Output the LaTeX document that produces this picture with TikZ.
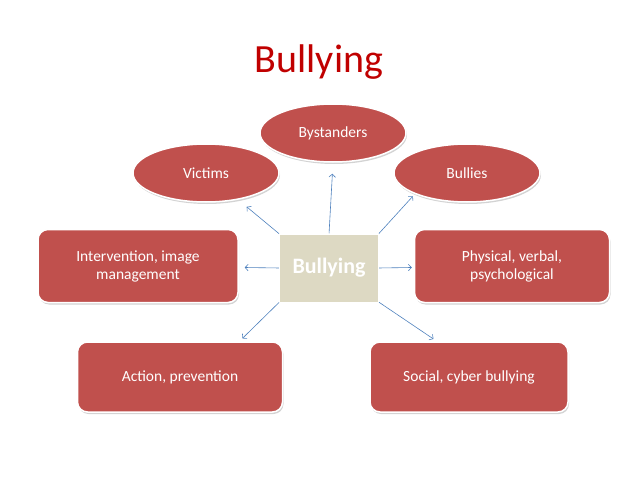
\documentclass[tikz,border=0pt]{standalone}
\usepackage{fontspec}
\setmainfont{Carlito}
\usepackage{tikz}
\usetikzlibrary{shapes.geometric, shadows, arrows.meta}

\definecolor{slidered}{HTML}{C0504D}
\definecolor{titlered}{HTML}{C00000}
\definecolor{hubtan}{HTML}{DDD9C3}
\definecolor{linkblue}{HTML}{4F81BD}

\begin{document}
\begin{tikzpicture}[x=1pt, y=-1pt, ->, >={Straight Barb[length=3pt, width=6.5pt]},
    oval/.style={ellipse, draw=white, line width=1.5pt, fill=slidered, text=white,
      minimum width=146pt, minimum height=58pt, inner sep=0pt,
      font=\fontsize{15.5}{18}\selectfont,
      drop shadow={shadow xshift=1pt, shadow yshift=-2pt, opacity=0.35}},
    card/.style={rectangle, rounded corners=10pt, draw=white, line width=1.5pt,
      fill=slidered, text=white, align=center, inner sep=0pt,
      font=\fontsize{15.5}{18}\selectfont,
      drop shadow={shadow xshift=1pt, shadow yshift=-2pt, opacity=0.35}},
    hub/.style={rectangle, fill=hubtan, text=white, minimum width=98pt,
      minimum height=67pt, font=\fontsize{22}{26}\selectfont\bfseries},
    link/.style={draw=linkblue, line width=0.6pt, shorten <=1pt}]
  \useasboundingbox (0,0) rectangle (638,479);

  \node[text=titlered, font=\fontsize{40}{46}\selectfont] (title) at (319,62) {Bullying};

  \node[hub] (hub) at (329,268) {Bullying};

  \node[oval] (bys) at (333,133) {Bystanders};
  \node[oval] (vic) at (206,173) {Victims};
  \node[oval] (bul) at (467,173) {Bullies};

  \node[card, minimum width=200pt, minimum height=73pt] (inter) at (138,266) {Intervention, image\\management};
  \node[card, minimum width=195pt, minimum height=73pt] (phys) at (512,266) {Physical, verbal,\\psychological};
  \node[card, minimum width=205pt, minimum height=70pt] (act) at (180,377) {Action, prevention};
  \node[card, minimum width=198pt, minimum height=70pt] (soc) at (469,377) {Social, cyber bullying};

  \path (hub.north) edge[link, shorten >=11pt] (bys.south)
        (hub.north west) edge[link, shorten >=11pt] (vic)
        (hub.north east) edge[link, shorten >=3pt] (bul.south west)
        (hub.west) edge[link, shorten >=6pt] (inter)
        (hub.east) edge[link, shorten >=2pt] (phys)
        (hub.south west) edge[link, shorten >=4pt] (act.31)
        (hub.south east) edge[link, shorten >=4pt] (soc.132)
        ;
\end{tikzpicture}
\end{document}
